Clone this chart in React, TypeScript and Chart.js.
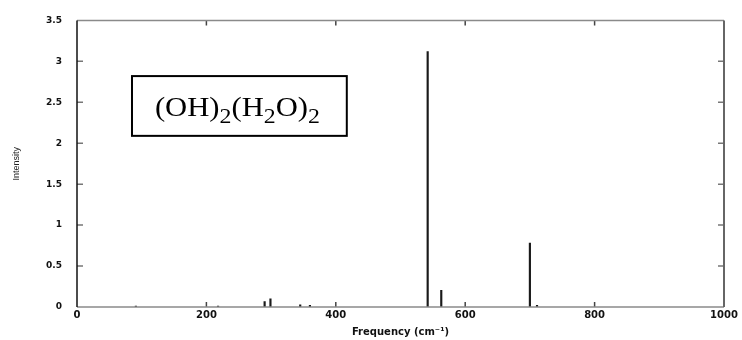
import React, { useEffect, useRef } from "react";
import { Chart, registerables } from "chart.js";

Chart.register(...registerables);

// Spectrum lines: frequency (cm^-1) and intensity
const frequencies = [91, 218, 290, 299, 345, 360, 542, 563, 700, 711];
const intensities = [0.01, 0.01, 0.065, 0.1, 0.025, 0.02, 3.12, 0.205, 0.78, 0.02];

const xTickValues = [0, 200, 400, 600, 800, 1000];
const yTickValues = [0, 0.5, 1, 1.5, 2, 2.5, 3, 3.5];

const labelParts: [string, boolean][] = [
  ["(OH)", false],
  ["2", true],
  ["(H", false],
  ["2", true],
  ["O)", false],
  ["2", true],
];

const framePlugin = {
  id: "frame",
  afterDatasetsDraw(chart: any) {
    const { ctx, chartArea: a, scales } = chart;
    const xs = scales.x;
    const ys = scales.y;
    ctx.save();
    ctx.lineWidth = 1.5;
    // ticks (inward)
    ctx.strokeStyle = "#444";
    xTickValues.slice(1, -1).forEach((v) => {
      const px = xs.getPixelForValue(v);
      ctx.beginPath();
      ctx.moveTo(px, a.bottom);
      ctx.lineTo(px, a.bottom - 5);
      ctx.moveTo(px, a.top);
      ctx.lineTo(px, a.top + 5);
      ctx.stroke();
    });
    ctx.strokeStyle = "#777";
    yTickValues.slice(1, -1).forEach((v) => {
      const py = ys.getPixelForValue(v);
      ctx.beginPath();
      ctx.moveTo(a.left, py);
      ctx.lineTo(a.left + 6, py);
      ctx.moveTo(a.right, py);
      ctx.lineTo(a.right - 6, py);
      ctx.stroke();
    });
    // frame
    ctx.strokeStyle = "#8a8a8a";
    ctx.beginPath();
    ctx.moveTo(a.left, a.top);
    ctx.lineTo(a.right, a.top);
    ctx.moveTo(a.left, a.bottom);
    ctx.lineTo(a.right, a.bottom);
    ctx.stroke();
    ctx.strokeStyle = "#666";
    ctx.lineWidth = 2;
    ctx.beginPath();
    ctx.moveTo(a.right, a.top);
    ctx.lineTo(a.right, a.bottom);
    ctx.stroke();
    ctx.strokeStyle = "#111";
    ctx.lineWidth = 1.5;
    ctx.beginPath();
    ctx.moveTo(a.left, a.top);
    ctx.lineTo(a.left, a.bottom);
    ctx.stroke();
    ctx.restore();
  },
  afterDraw(chart: any) {
    const { ctx, scales } = chart;
    const xs = scales.x;
    const ys = scales.y;
    // label box in data coordinates
    const x0 = xs.getPixelForValue(85);
    const x1 = xs.getPixelForValue(417);
    const y0 = ys.getPixelForValue(2.82);
    const y1 = ys.getPixelForValue(2.09);
    ctx.save();
    ctx.fillStyle = "#fff";
    ctx.fillRect(x0, y0, x1 - x0, y1 - y0);
    ctx.strokeStyle = "#000";
    ctx.lineWidth = 2;
    ctx.strokeRect(x0, y0, x1 - x0, y1 - y0);

    const mainFont = "27px 'Liberation Serif', 'Times New Roman', serif";
    const subFont = "21px 'Liberation Serif', 'Times New Roman', serif";
    let natural = 0;
    labelParts.forEach(([t, sub]) => {
      ctx.font = sub ? subFont : mainFont;
      natural += ctx.measureText(t).width;
    });
    const targetW = 165;
    const sx = targetW / natural;
    const cx = (x0 + x1) / 2 - 2;
    const baseY = (y0 + y1) / 2 + 10;
    ctx.translate(cx - targetW / 2, baseY);
    ctx.scale(sx, 1);
    ctx.fillStyle = "#000";
    ctx.textBaseline = "alphabetic";
    ctx.textAlign = "left";
    let pos = 0;
    labelParts.forEach(([t, sub]) => {
      ctx.font = sub ? subFont : mainFont;
      ctx.fillText(t, pos, sub ? 7 : 0);
      pos += ctx.measureText(t).width;
    });
    ctx.restore();
  },
};

export default function App() {
  const canvasRef = useRef<HTMLCanvasElement | null>(null);

  useEffect(() => {
    document.body.style.margin = "0";
    const canvas = canvasRef.current;
    if (!canvas) return;
    const chart = new Chart(canvas, {
      type: "bar",
      data: {
        datasets: [
          {
            data: frequencies.map((f, i) => ({ x: f, y: intensities[i] })),
            backgroundColor: "#1a1a1a",
            borderWidth: 0,
            barThickness: 1.5,
          },
        ],
      },
      options: {
        responsive: false,
        animation: false,
        devicePixelRatio: 1,
        layout: { padding: { top: 16, right: 18, left: 0, bottom: 0 } },
        plugins: {
          legend: { display: false },
          tooltip: { enabled: false },
        },
        scales: {
          x: {
            type: "linear",
            min: 0,
            max: 1000,
            offset: false,
            afterFit: (s: any) => {
              s.height = 33;
            },
            afterBuildTicks: (s: any) => {
              s.ticks = xTickValues.map((v) => ({ value: v }));
            },
            grid: { display: false, drawTicks: false, offset: false },
            border: { display: false },
            ticks: {
              padding: 2,
              color: "#111",
              maxRotation: 0,
              callback: (v: any) => String(v),
              font: { family: "'DejaVu Sans', sans-serif", size: 10, weight: "bold" },
            },
            title: {
              display: true,
              text: "Frequency (cm⁻¹)",
              color: "#111",
              padding: { top: 0, bottom: 2 },
              font: { family: "'DejaVu Sans', sans-serif", size: 10, weight: "bold" },
            },
          },
          y: {
            type: "linear",
            min: 0,
            max: 3.5,
            afterFit: (s: any) => {
              s.width = 77;
            },
            afterBuildTicks: (s: any) => {
              s.ticks = yTickValues.map((v) => ({ value: v }));
            },
            grid: { display: false, drawTicks: false },
            border: { display: false },
            ticks: {
              padding: 15,
              color: "#111",
              callback: (v: any) => String(v),
              font: { family: "'DejaVu Sans', sans-serif", size: 9, weight: "bold" },
            },
            title: {
              display: true,
              text: "Intensity",
              color: "#222",
              padding: { top: 11.5, bottom: 0 },
              font: { family: "'Liberation Sans', Arial, sans-serif", size: 9 },
            },
          },
        },
      },
      plugins: [framePlugin],
    });
    return () => chart.destroy();
  }, []);

  return (
    <div style={{ width: 742, height: 340, background: "#fff" }}>
      <canvas ref={canvasRef} width={742} height={340} />
    </div>
  );
}
